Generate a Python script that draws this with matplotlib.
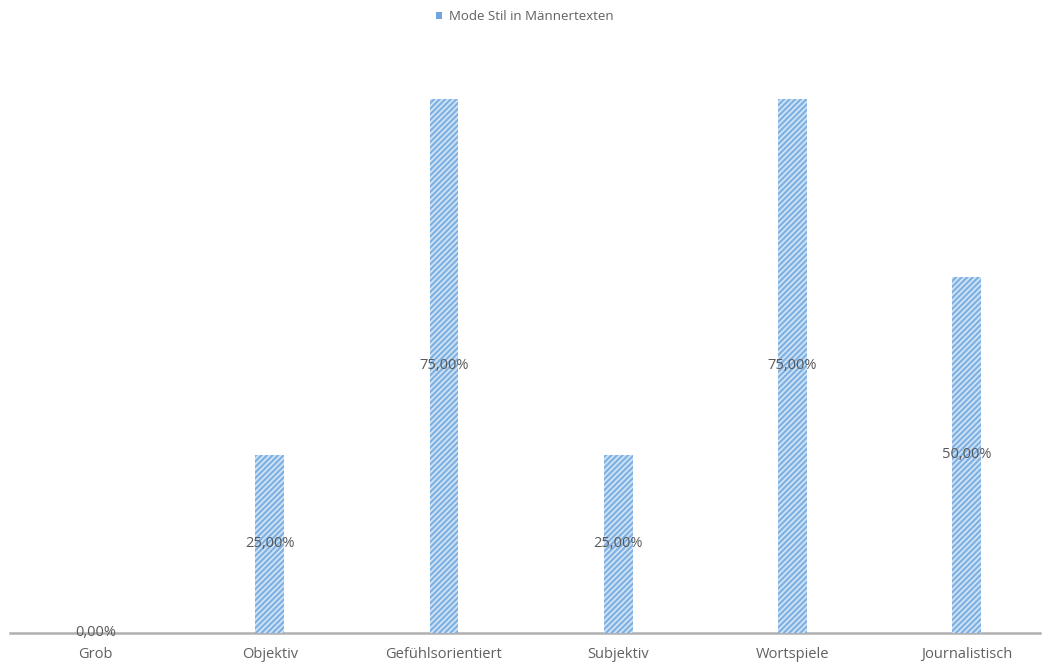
import matplotlib.pyplot as plt
from matplotlib.patches import Patch

categories = ['Grob', 'Objektiv', 'Gefühlsorientiert', 'Subjektiv', 'Wortspiele', 'Journalistisch']
values = [0.0, 25.0, 75.0, 25.0, 75.0, 50.0]
series_name = 'Mode Stil in Männertexten'

plt.rcParams['font.family'] = ['Open Sans', 'DejaVu Sans']
plt.rcParams['hatch.linewidth'] = 1.6

fig = plt.figure(figsize=(10.46, 6.71), dpi=100)
ax = fig.add_axes([10 / 1046, 38 / 671, 1030 / 1046, 570 / 671])

x = range(len(categories))
ax.bar(x, values, width=0.165, color='#d3e5f6', edgecolor='#7fb1e2',
       hatch='//////', linewidth=0)

for xi, v in zip(x, values):
    ax.text(xi, v / 2, f'{v:.2f}%'.replace('.', ','), ha='center', va='center',
            fontsize=10.5, color='#595959')

ax.set_xlim(-0.49, 5.42)
ax.set_ylim(0, 80)
ax.set_xticks(list(x))
ax.set_xticklabels(categories, fontsize=10.5, color='#606060')
ax.tick_params(axis='x', length=0, pad=10)
ax.set_yticks([])
for side in ['top', 'right', 'left']:
    ax.spines[side].set_visible(False)
ax.spines['bottom'].set_color('#b0b0b0')
ax.spines['bottom'].set_linewidth(1.8)
ax.spines['bottom'].set_zorder(0)

handle = Patch(facecolor='#6fa5dc', edgecolor='none')
ax.legend([handle], [series_name], loc='center',
          bbox_to_anchor=(0.5, (671 - 17 - 38) / 570), frameon=False,
          fontsize=9.5, labelcolor='#606060', handlelength=0.45, handleheight=0.45,
          handletextpad=0.5)

fig.savefig('out.png', dpi=100)
